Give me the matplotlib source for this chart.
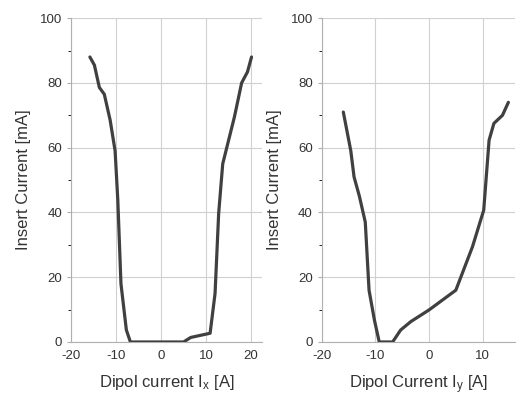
import matplotlib
matplotlib.use('Agg')
import matplotlib.pyplot as plt
from matplotlib.ticker import MultipleLocator

plt.rcParams['font.family'] = ['Liberation Sans', 'DejaVu Sans']
plt.rcParams['mathtext.default'] = 'regular'
plt.rcParams['axes.unicode_minus'] = False

# horizontal scan
ix = [-15.8, -14.8, -13.7, -12.6, -11.3, -10.2, -9.6, -8.9, -7.7, -6.8, 5.0, 6.6, 10.9, 12.0, 12.8, 13.7, 16.3, 17.9, 19.2, 20.1]
ins_x = [88, 85.5, 78.6, 76.5, 68.5, 59, 43.8, 18, 3.7, 0, 0, 1.4, 2.7, 15, 39.7, 55, 69.5, 80, 83.4, 88]

# vertical scan
iy = [-16.0, -14.6, -14.0, -13.0, -11.9, -11.2, -10.2, -9.3, -6.8, -5.3, -3.4, 0.0, 5.0, 8.1, 10.2, 11.2, 12.1, 13.7, 14.8]
ins_y = [71, 59, 51, 45, 37, 16, 6.8, 0, 0, 3.7, 6.3, 9.9, 16, 29.4, 40.7, 62.3, 67.5, 70, 74]

fig = plt.figure(figsize=(5.2, 4.03), dpi=100)
ax1 = fig.add_axes([0.1365, 0.1514, 0.368, 0.8036])
ax2 = fig.add_axes([0.619, 0.1514, 0.371, 0.8036])

for ax, x, y, xl, lab in [(ax1, ix, ins_x, (-20, 22.5), 'Dipol current I$_x$ [A]'),
                          (ax2, iy, ins_y, (-20, 16), 'Dipol Current I$_y$ [A]')]:
    ax.plot(x, y, color='#404040', lw=2.3, solid_capstyle='round', zorder=3)
    ax.set_xlim(*xl)
    ax.set_ylim(0, 100)
    ax.xaxis.set_major_locator(MultipleLocator(10))
    ax.yaxis.set_major_locator(MultipleLocator(20))
    ax.yaxis.set_minor_locator(MultipleLocator(10))
    ax.grid(True, color='#d0d0d0', lw=0.8)
    for s in ['top', 'right']:
        ax.spines[s].set_visible(False)
    ax.spines['left'].set_color('#b0b0b0')
    ax.spines['bottom'].set_color('#b0b0b0')
    ax.tick_params(axis='both', labelsize=9.5, colors='#b0b0b0', labelcolor='#333333', length=3)
    ax.tick_params(axis='x', length=0, pad=6)
    ax.tick_params(axis='y', which='minor', length=2)
    ax.set_xlabel(lab, fontsize=12, color='#333333', labelpad=8)
    ax.set_ylabel('Insert Current [mA]', fontsize=12, color='#333333', labelpad=6)

fig.savefig('out.png', dpi=100)
